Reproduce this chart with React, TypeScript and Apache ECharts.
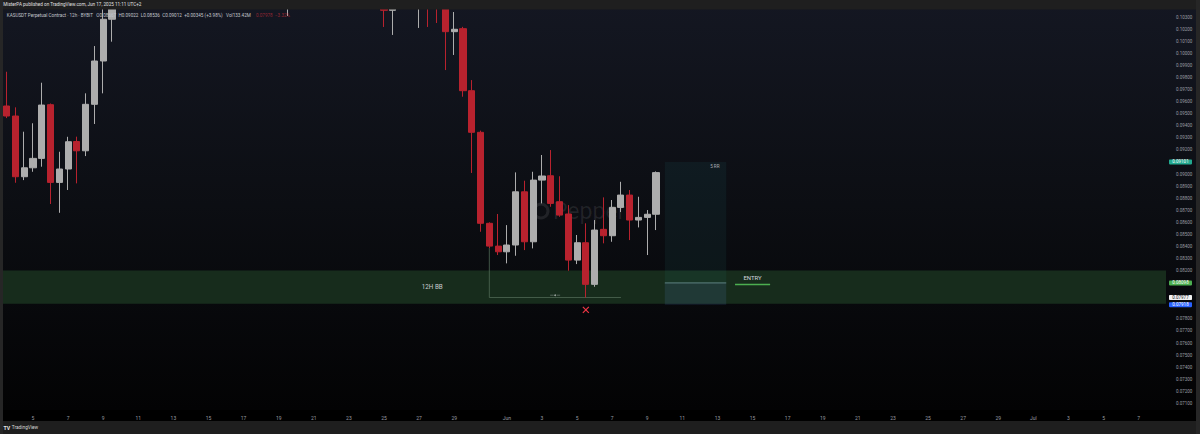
import React, { useEffect, useRef } from "react";
import * as echarts from "echarts";

// ---------- time axis (12h candles) ----------
const firstCandleUtc = Date.UTC(2025, 4, 3, 12);
const halfDayMs = 12 * 3600 * 1000;
const slotCount = 133;
const monthNames = ["Jan", "Feb", "Mar", "Apr", "May", "Jun", "Jul", "Aug", "Sep", "Oct", "Nov", "Dec"];

// ---------- KASUSDT 12h OHLC ----------
const opens = [
  0.09564, 0.09481, 0.08978, 0.09052, 0.0913, 0.09575, 0.08931, 0.09042, 0.0927, 0.09193,
  0.09578, 0.09937, 0.10283, 0.1068, 0.1105, 0.1152, 0.118, 0.1142, 0.1163, 0.1125,
  0.1108, 0.114, 0.1121, 0.1095, 0.111, 0.1087, 0.1102, 0.1078, 0.1064, 0.1082,
  0.1071, 0.1093, 0.1076, 0.1088, 0.111, 0.1135, 0.116, 0.1148, 0.1172, 0.1145,
  0.1128, 0.1104, 0.1083, 0.1062, 0.10357, 0.1052, 0.1068, 0.106, 0.1072, 0.1058,
  0.105, 0.1018, 0.10205, 0.09691, 0.09346, 0.08592, 0.08403, 0.08356, 0.08412, 0.08853,
  0.08439, 0.0895, 0.08986, 0.08771, 0.08669, 0.08287, 0.08431, 0.08086, 0.08542, 0.08489,
  0.08724, 0.08826, 0.08619, 0.08641, 0.08667,
];
const highs = [
  0.09848, 0.09553, 0.09351, 0.09421, 0.09757, 0.09585, 0.09185, 0.09309, 0.0931, 0.09669,
  0.10061, 0.104, 0.1075, 0.112, 0.1164, 0.1195, 0.119, 0.1176, 0.117, 0.1138,
  0.1152, 0.1148, 0.1129, 0.1122, 0.1115, 0.111, 0.1106, 0.1085, 0.109, 0.1088,
  0.11, 0.1098, 0.1095, 0.1118, 0.1142, 0.117, 0.1168, 0.1182, 0.1178, 0.1153,
  0.1135, 0.1112, 0.109, 0.107, 0.106, 0.1082, 0.1085, 0.108, 0.1078, 0.1065,
  0.1058, 0.10343, 0.1022, 0.09779, 0.0936, 0.086, 0.08669, 0.08577, 0.09014, 0.08945,
  0.09019, 0.09158, 0.09199, 0.08982, 0.08743, 0.08495, 0.08592, 0.08619, 0.08807, 0.08785,
  0.08936, 0.08868, 0.08812, 0.08702, 0.09022,
];
const lows = [
  0.09464, 0.08928, 0.0895, 0.09019, 0.09061, 0.08752, 0.08679, 0.08868, 0.08923, 0.09149,
  0.09415, 0.09669, 0.10097, 0.106, 0.1092, 0.1138, 0.1128, 0.113, 0.1115, 0.1094,
  0.1099, 0.111, 0.1085, 0.1088, 0.1076, 0.1079, 0.107, 0.1052, 0.1058, 0.106,
  0.1065, 0.1068, 0.1031, 0.108, 0.1102, 0.1128, 0.1139, 0.1142, 0.1138, 0.1118,
  0.1096, 0.1075, 0.1045, 0.10219, 0.10153, 0.104, 0.1045, 0.10211, 0.10219, 0.10252,
  0.09862, 0.09987, 0.09641, 0.09009, 0.08522, 0.08387, 0.08329, 0.0826, 0.08323, 0.0837,
  0.08384, 0.08757, 0.08729, 0.08646, 0.08199, 0.08254, 0.07977, 0.08066, 0.08426, 0.08439,
  0.08685, 0.08453, 0.08558, 0.08329, 0.08536,
];
const closes = [
  0.09481, 0.08978, 0.09052, 0.0913, 0.09572, 0.08931, 0.09042, 0.09268, 0.09193, 0.09578,
  0.09937, 0.10283, 0.1068, 0.1105, 0.1152, 0.118, 0.1142, 0.1163, 0.1125, 0.1108,
  0.114, 0.1121, 0.1095, 0.111, 0.1087, 0.1102, 0.1078, 0.1064, 0.1082, 0.1071,
  0.1093, 0.1076, 0.1088, 0.111, 0.1135, 0.116, 0.1148, 0.1172, 0.1145, 0.1128,
  0.1104, 0.1083, 0.1062, 0.10357, 0.1052, 0.1068, 0.106, 0.1072, 0.1058, 0.105,
  0.1018, 0.102, 0.09691, 0.09346, 0.08592, 0.08403, 0.08356, 0.08412, 0.08853, 0.08439,
  0.0895, 0.08984, 0.08757, 0.0866, 0.08287, 0.08431, 0.08086, 0.08536, 0.08489, 0.08724,
  0.08826, 0.08619, 0.08641, 0.08667, 0.09012,
];

// ---------- price axis ----------
const priceMin = 0.07;
const priceMax = 0.104;
const priceStep = 0.001;

// ---------- drawings (prices / candle indexes) ----------
const zoneBottom = 0.07925;
const zoneTop = 0.082;
const targetPrice = 0.09101;
const entryPrice = 0.08098;
const stopPrice = 0.07918;
const sweepPrice = 0.07977;
const invalidPrice = 0.07874;
const positionStart = 75;
const positionEnd = 82;
const entryLabelStart = 83;
const entryLabelEnd = 87;
const sweepStart = 55;
const sweepEnd = 70;
const invalidIndex = 66;
const zoneLabelIndex = 48.5;
const rrLabelIndex = 80.7;
const tagPrices = [targetPrice, entryPrice, sweepPrice, stopPrice];
const tagBg = ["#22a98f", "#4caf50", "#f2f2f2", "#2962ff"];
const tagFg = ["#ffffff", "#ffffff", "#131722", "#ffffff"];

const headerTitle = "MisterPA published on TradingView.com, Jun 17, 2025 11:11 UTC+2";
const legendText =
  "KASUSDT Perpetual Contract · 12h · BYBIT   O0.08667  H0.09022  L0.08536  C0.09012  +0.00345 (+3.98%)   Vol133.42M";
const legendRed = "0.07978  −3.32%";

const FONT = "Roboto, 'Noto Sans', sans-serif";

function tickLabel(i: number): string {
  const d = new Date(firstCandleUtc + i * halfDayMs);
  if (d.getUTCHours() !== 0) return "";
  const day = d.getUTCDate();
  if (day === 1) return monthNames[d.getUTCMonth()];
  if (day % 2 === 1 && day !== 31) return String(day);
  return "";
}

export default function App() {
  const ref = useRef<HTMLDivElement>(null);

  useEffect(() => {
    const el = ref.current!;
    const chart = echarts.init(el, null, { renderer: "svg", width: 1200, height: 434 });

    const categories = Array.from({ length: slotCount }, (_, i) =>
      new Date(firstCandleUtc + i * halfDayMs).toISOString().slice(0, 13)
    );
    const candles = opens.map((o, i) => [o, closes[i], lows[i], highs[i]]);

    chart.setOption({
      animation: false,
      backgroundColor: "#000000",
      grid: { left: 2.31, right: 30.62, top: 5.133, bottom: 18.59, containLabel: false },
      xAxis: {
        type: "category",
        data: categories,
        boundaryGap: true,
        axisLine: { show: false },
        axisTick: { show: false },
        splitLine: { show: false },
        axisLabel: {
          interval: (index: number) => tickLabel(index) !== "",
          formatter: (_v: string, index: number) => tickLabel(index),
          color: "#9a9ca3",
          fontSize: 5,
          fontFamily: FONT,
          verticalAlign: "middle",
          margin: 2.2,
        },
        z: 20,
      },
      yAxis: {
        type: "value",
        position: "right",
        min: priceMin,
        max: priceMax,
        interval: priceStep,
        scale: true,
        axisLine: { show: false },
        axisTick: { show: false },
        splitLine: { show: false },
        axisLabel: {
          showMinLabel: false,
          showMaxLabel: false,
          margin: 6.6,
          color: "#9a9ca3",
          fontSize: 4.5,
          fontFamily: FONT,
          formatter: (v: number) =>
            tagPrices.some((t) => Math.abs(t - v) < 0.0009) ? "" : v.toFixed(5),
        },
        z: 20,
      },
      series: [
        {
          type: "candlestick",
          data: candles,
          barWidth: 6.6,
          clip: true,
          z: 5,
          itemStyle: {
            color: "#adadad",
            color0: "#b8222e",
            borderColor: "#adadad",
            borderColor0: "#b8222e",
            borderWidth: 1,
          },
        },
      ],
    });

    const p = (i: number, v: number) => {
      const a = chart.convertToPixel({ xAxisIndex: 0, yAxisIndex: 0 }, [Math.floor(i), v]) as number[];
      const frac = i - Math.floor(i);
      if (frac > 0) {
        const b = chart.convertToPixel({ xAxisIndex: 0, yAxisIndex: 0 }, [Math.floor(i) + 1, v]) as number[];
        return [a[0] + (b[0] - a[0]) * frac, a[1]];
      }
      return a;
    };

    const plotLeft = 3;
    const plotRight = 1166;
    const plotTop = 9.5;
    const axisTop = 410;
    const footerTop = 421;

    const yZoneTop = p(0, zoneTop)[1];
    const yZoneBottom = p(0, zoneBottom)[1];
    const yTarget = p(0, targetPrice)[1];
    const yEntry = p(0, entryPrice)[1];
    const yStop = p(0, stopPrice)[1];
    const ySweep = p(0, sweepPrice)[1];
    const xPosL = p(positionStart, 0.08)[0];
    const xPosR = p(positionEnd, 0.08)[0];
    const xEntL = p(entryLabelStart, 0.08)[0];
    const xEntR = p(entryLabelEnd, 0.08)[0];
    const xSweepL = p(sweepStart, 0.08)[0];
    const xSweepR = p(sweepEnd, 0.08)[0];
    const ySweepTop = p(sweepStart, lows[sweepStart])[1];
    const inv = p(invalidIndex, invalidPrice);
    const zoneLabelX = p(zoneLabelIndex, 0.08)[0];
    const rrX = p(rrLabelIndex, 0.08)[0];
    const sweepMid = (xSweepL + xSweepR) / 2;

    const elements: any[] = [
      {
        type: "rect",
        z: -100,
        shape: { x: 0, y: 0, width: 1200, height: axisTop },
        style: {
          fill: new echarts.graphic.LinearGradient(0, 0, 0, 1, [
            { offset: 0, color: "#141722" },
            { offset: 0.5, color: "#0c0e13" },
            { offset: 1, color: "#030304" },
          ]),
        },
        silent: true,
      },
      {
        type: "rect",
        z: -90,
        shape: { x: 0, y: axisTop, width: 1200, height: footerTop - axisTop },
        style: { fill: "#000000" },
        silent: true,
      },
      // watermark
      {
        type: "circle",
        z: 1,
        shape: { cx: 541, cy: 211, r: 7 },
        style: { fill: "none", stroke: "rgba(255,255,255,0.09)", lineWidth: 3 },
        silent: true,
      },
      {
        type: "text",
        z: 1,
        style: {
          text: "Pepper",
          x: 553,
          y: 211,
          fill: "rgba(255,255,255,0.09)",
          fontSize: 23,
          fontFamily: FONT,
          verticalAlign: "middle",
          align: "left",
        },
        silent: true,
      },
      // demand zone
      {
        type: "rect",
        z: 1,
        shape: { x: plotLeft, y: yZoneTop, width: plotRight - plotLeft, height: yZoneBottom - yZoneTop },
        style: { fill: "#172c1c" },
        silent: true,
      },
      {
        type: "text",
        z: 6,
        style: {
          text: "12H BB",
          x: zoneLabelX,
          y: (yZoneTop + yZoneBottom) / 2,
          fill: "#c9cbd0",
          fontSize: 6.3,
          fontFamily: FONT,
          align: "center",
          verticalAlign: "middle",
        },
        silent: true,
      },
      // position tool
      {
        type: "rect",
        z: 2,
        shape: { x: xPosL, y: yTarget, width: xPosR - xPosL, height: yEntry - yTarget },
        style: { fill: "rgba(40,140,140,0.09)" },
        silent: true,
      },
      {
        type: "rect",
        z: 2,
        shape: { x: xPosL, y: yEntry, width: xPosR - xPosL, height: yStop - yEntry },
        style: { fill: "rgba(70,110,160,0.20)" },
        silent: true,
      },
      {
        type: "line",
        z: 3,
        shape: { x1: xPosL, y1: yEntry, x2: xPosR, y2: yEntry },
        style: { stroke: "#5f8283", lineWidth: 1 },
        silent: true,
      },
      {
        type: "text",
        z: 6,
        style: {
          text: "5 RR",
          x: rrX,
          y: yTarget + 4.8,
          fill: "#a9acb4",
          fontSize: 4.6,
          fontFamily: FONT,
          align: "center",
          verticalAlign: "middle",
        },
        silent: true,
      },
      // entry label
      {
        type: "line",
        z: 3,
        shape: { x1: xEntL, y1: yEntry + 1.5, x2: xEntR, y2: yEntry + 1.5 },
        style: { stroke: "#4caf50", lineWidth: 1.5 },
        silent: true,
      },
      {
        type: "text",
        z: 6,
        style: {
          text: "ENTRY",
          x: (xEntL + xEntR) / 2,
          y: yEntry - 5.5,
          fill: "#d1d4dc",
          fontSize: 6,
          fontFamily: FONT,
          align: "center",
          verticalAlign: "middle",
        },
        silent: true,
      },
      // sweep bracket
      {
        type: "polyline",
        z: 3,
        shape: { points: [[xSweepL, ySweepTop], [xSweepL, ySweep], [xSweepR, ySweep]] },
        style: { stroke: "#4f6a55", lineWidth: 0.8, fill: "none" },
        silent: true,
      },
      {
        type: "line",
        z: 3,
        shape: { x1: sweepMid - 5, y1: ySweep - 2.3, x2: sweepMid - 1.5, y2: ySweep - 2.3 },
        style: { stroke: "#7f8c85", lineWidth: 0.6 },
        silent: true,
      },
      {
        type: "line",
        z: 3,
        shape: { x1: sweepMid + 1.5, y1: ySweep - 2.3, x2: sweepMid + 5, y2: ySweep - 2.3 },
        style: { stroke: "#7f8c85", lineWidth: 0.6 },
        silent: true,
      },
      {
        type: "circle",
        z: 3,
        shape: { cx: sweepMid, cy: ySweep - 2.3, r: 0.9 },
        style: { fill: "#9aa39d" },
        silent: true,
      },
      // invalidation X
      {
        type: "line",
        z: 6,
        shape: { x1: inv[0] - 3, y1: inv[1] - 3, x2: inv[0] + 3, y2: inv[1] + 3 },
        style: { stroke: "#f23645", lineWidth: 1.1 },
        silent: true,
      },
      {
        type: "line",
        z: 6,
        shape: { x1: inv[0] - 3, y1: inv[1] + 3, x2: inv[0] + 3, y2: inv[1] - 3 },
        style: { stroke: "#f23645", lineWidth: 1.1 },
        silent: true,
      },
      // frame: header, footer, borders
      {
        type: "rect",
        z: 100,
        shape: { x: 0, y: 0, width: 1200, height: plotTop },
        style: { fill: "#1f1f1f" },
        silent: true,
      },
      {
        type: "text",
        z: 101,
        style: {
          text: headerTitle,
          x: 3.3,
          y: 4.8,
          fill: "#e0e0e0",
          fontSize: 4.6,
          fontFamily: FONT,
          verticalAlign: "middle",
        },
        silent: true,
      },
      {
        type: "text",
        z: 101,
        style: {
          text: legendText,
          x: 6.8,
          y: 15,
          fill: "#c3c6cd",
          fontSize: 4.6,
          fontFamily: FONT,
          verticalAlign: "middle",
        },
        silent: true,
      },
      {
        type: "text",
        z: 101,
        style: {
          text: legendRed,
          x: 256,
          y: 15,
          fill: "rgba(242,54,69,0.55)",
          fontSize: 4.6,
          fontFamily: FONT,
          verticalAlign: "middle",
        },
        silent: true,
      },
      {
        type: "rect",
        z: 100,
        shape: { x: 0, y: footerTop, width: 1200, height: 434 - footerTop },
        style: { fill: "#1e1e1e" },
        silent: true,
      },
      {
        type: "text",
        z: 101,
        style: {
          text: "TV",
          x: 3.5,
          y: 427.8,
          fill: "#e8e8e8",
          fontSize: 5.2,
          fontWeight: "bold",
          fontFamily: FONT,
          verticalAlign: "middle",
        },
        silent: true,
      },
      {
        type: "text",
        z: 101,
        style: {
          text: "TradingView",
          x: 11.8,
          y: 427.8,
          fill: "#d6d6d6",
          fontSize: 4.8,
          fontFamily: FONT,
          verticalAlign: "middle",
        },
        silent: true,
      },
      {
        type: "rect",
        z: 100,
        shape: { x: 0, y: 0, width: 3, height: 434 },
        style: { fill: "#262626" },
        silent: true,
      },
      {
        type: "rect",
        z: 100,
        shape: { x: 1196, y: 0, width: 4, height: 434 },
        style: { fill: "#262626" },
        silent: true,
      },
    ];

    tagPrices.forEach((price, k) => {
      const y = p(0, price)[1];
      elements.push({
        type: "rect",
        z: 110,
        shape: { x: 1169, y: y - 2.5, width: 23, height: 5, r: 0.8 },
        style: { fill: tagBg[k] },
        silent: true,
      });
      elements.push({
        type: "text",
        z: 111,
        style: {
          text: price.toFixed(5),
          x: 1180.5,
          y: y,
          fill: tagFg[k],
          fontSize: 4.5,
          fontFamily: FONT,
          align: "center",
          verticalAlign: "middle",
        },
        silent: true,
      });
    });

    chart.setOption({ graphic: { elements } });

    return () => chart.dispose();
  }, []);

  return (
    <div
      ref={ref}
      style={{ position: "fixed", left: 0, top: 0, width: 1200, height: 434 }}
    />
  );
}
